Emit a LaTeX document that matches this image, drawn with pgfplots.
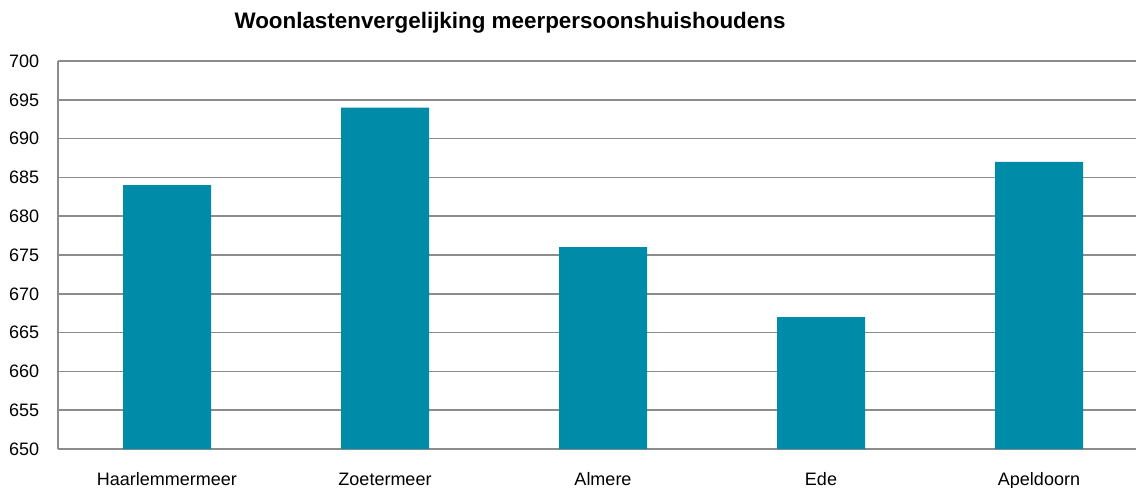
\documentclass[border=0pt]{standalone}
\usepackage{pgfplots}
\pgfplotsset{compat=1.18}
\usepackage{fontspec}
\setmainfont{Liberation Sans}
\definecolor{barteal}{RGB}{0,139,168}
\definecolor{gridgray}{RGB}{140,140,140}
\begin{document}
\begin{tikzpicture}
\path[use as bounding box] (0,0) rectangle (852pt,365.25pt);
\clip (0,0) rectangle (852pt,365.25pt);
\begin{axis}[
  at={(43.5pt,28.5pt)}, anchor=south west,
  scale only axis, width=817.5pt, height=291pt,
  xmin=-0.5, xmax=4.5, ymin=650, ymax=700,
  ytick={650,655,...,700},
  xtick={0,1,2,3,4},
  xticklabels={Haarlemmermeer,Zoetermeer,Almere,Ede,Apeldoorn},
  axis x line*=bottom, axis y line*=left,
  axis line style={gridgray, line width=1.1pt, -},
  ymajorgrids, major grid style={gridgray, line width=1.1pt},
  major tick length=0pt,
  tick style={draw=none},
  ticklabel style={font=\fontsize{13.5pt}{16pt}\selectfont},
  /pgf/number format/assume math mode=true,
  xticklabel style={anchor=base, inner sep=0pt, yshift=-27pt},
  yticklabel style={anchor=east, inner sep=0pt, xshift=-14pt},
  ybar, bar width=66pt,
]
\addplot[fill=barteal, draw=none] coordinates {(0,684) (1,694) (2,676) (3,667) (4,687)};
\end{axis}
\node[font=\fontsize{16.8pt}{19pt}\selectfont\bfseries] at (382.5pt,348pt) {Woonlastenvergelijking meerpersoonshuishoudens};
\end{tikzpicture}
\end{document}
